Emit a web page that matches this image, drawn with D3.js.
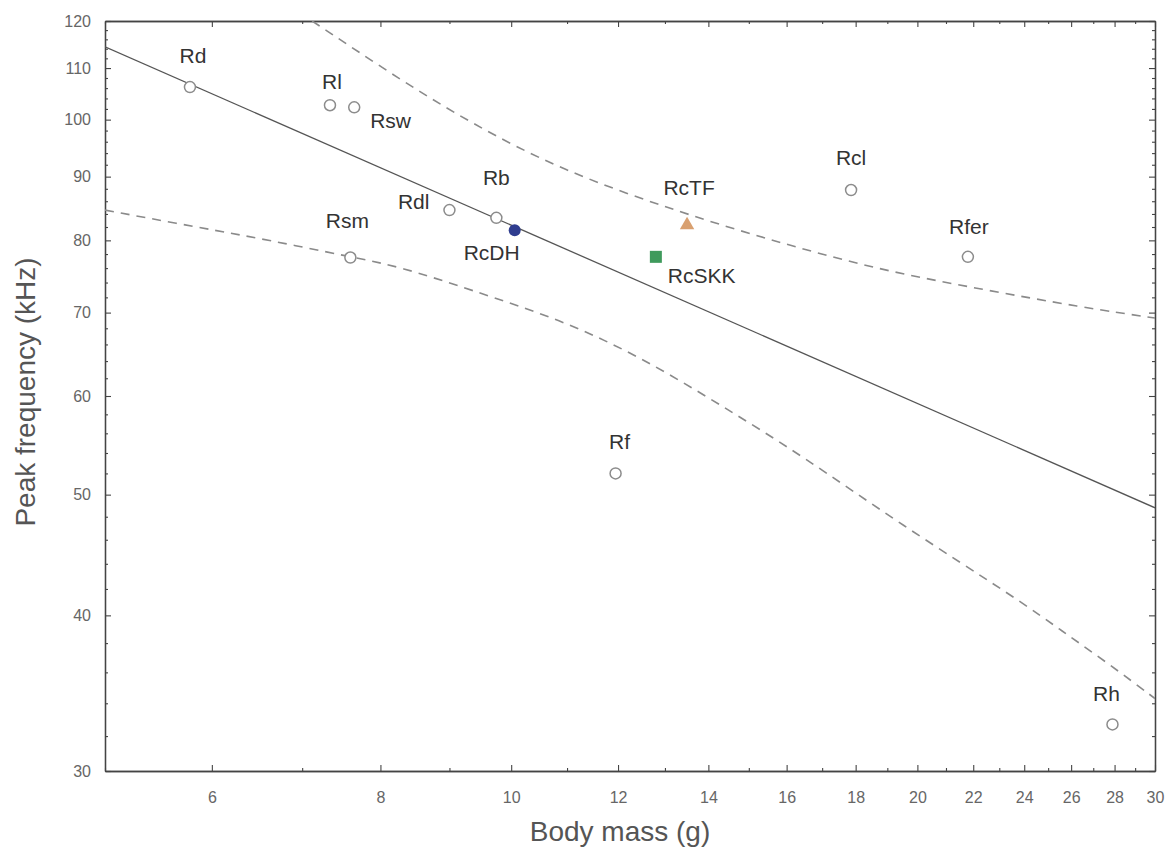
<!DOCTYPE html>
<html>
<head>
<meta charset="utf-8">
<script src="https://cdn.jsdelivr.net/npm/d3@7"></script>
<style>
  body { margin: 0; background: #fff; }
  svg { display: block; }
</style>
</head>
<body>
<div id="chart"></div>
<script>
// Species (open circles)
const species = ["Rd", "Rl", "Rsw", "Rsm", "Rdl", "Rb", "Rcl", "Rfer", "Rf", "Rh"];
const bodyMass = [5.78, 7.34, 7.65, 7.6, 9.0, 9.75, 17.86, 21.8, 11.95, 27.9];
const peakFreq = [106.2, 102.7, 102.3, 77.5, 84.6, 83.4, 87.8, 77.6, 52.0, 32.7];

// Highlighted populations
const popNames = ["RcDH", "RcTF", "RcSKK"];
const popMass = [10.06, 13.5, 12.8];
const popFreq = [81.5, 82.3, 77.6];

// Regression line and confidence band
const fitMass = [5, 30];
const fitFreq = [114.4, 48.8];
const upperMass = [7.12, 8.28, 9.33, 10.88, 13.35, 15.84, 18.8, 22.3, 26.45, 30];
const upperFreq = [120, 107.6, 99.4, 91.1, 84.2, 79.6, 75.7, 73.1, 70.7, 69.3];
const lowerMass = [5, 5.88, 6.59, 7.6, 8.28, 9.33, 10.88, 12.47, 14.3, 16.4, 19.45, 23.75, 25.56, 27.7, 30];
const lowerFreq = [84.6, 81.9, 80.1, 77.6, 76.2, 73.0, 69.1, 64.5, 59.0, 53.8, 47.3, 41.2, 38.9, 36.6, 34.3];

// Tick values
const xMajor = [6, 8, 10, 12, 14, 16, 18, 20, 22, 24, 26, 28, 30];
const xMinor = d3.range(5, 31).filter(v => v % 2 === 1);
const yMajor = [30, 40, 50, 60, 70, 80, 90, 100, 110, 120];
const yMinor = d3.range(30, 121, 2).filter(v => v % 10 !== 0);

// Label placement (offset from point, px) and anchor
const labelPos = {
  Rd: [3, -24, "middle"], Rl: [2, -16, "middle"], Rsw: [16, 21, "start"],
  Rsm: [-3, -30, "middle"], Rdl: [-20, -1, "end"], Rb: [0, -33, "middle"],
  Rcl: [0, -25, "middle"], Rfer: [1, -23, "middle"], Rf: [4, -24, "middle"],
  Rh: [-6, -23, "middle"], RcDH: [-23, 30, "middle"], RcTF: [2, -30, "middle"],
  RcSKK: [12, 26, "start"]
};

const margin = { top: 21, right: 16, bottom: 92, left: 105 };
const width = 1171 - margin.left - margin.right;
const height = 863 - margin.top - margin.bottom;

const svg = d3.select("#chart")
  .append("svg")
    .attr("width", 1171)
    .attr("height", 863)
  .append("g")
    .attr("transform", `translate(${margin.left}, ${margin.top})`);

const x = d3.scaleLog().domain([5, 30]).range([0, width]);
const y = d3.scaleLog().domain([30, 120]).range([height, 0]);

svg.append("clipPath").attr("id", "clip")
  .append("rect").attr("width", width).attr("height", height);

const tickFont = "'Liberation Sans Narrow', 'Liberation Sans', Arial, sans-serif";
const axisColor = "#444";

function styleAxis(g) {
  g.selectAll("path").attr("stroke", axisColor).attr("stroke-width", 1.3);
  g.selectAll("line").attr("stroke", axisColor).attr("stroke-width", 1.1);
  g.selectAll("text")
    .style("font-family", tickFont)
    .style("font-size", "16px")
    .style("fill", "#666");
}

// Bottom axis
svg.append("g")
  .attr("transform", `translate(0, ${height})`)
  .call(d3.axisBottom(x).tickValues(xMajor).tickFormat(d3.format("d"))
    .tickSize(-6).tickSizeOuter(0).tickPadding(21))
  .call(styleAxis);
svg.append("g")
  .attr("transform", `translate(0, ${height})`)
  .call(d3.axisBottom(x).tickValues(xMinor).tickFormat("").tickSize(-3).tickSizeOuter(0))
  .call(styleAxis);

// Top axis (mirrored ticks)
svg.append("g")
  .call(d3.axisTop(x).tickValues(xMajor).tickFormat("").tickSize(-6).tickSizeOuter(0))
  .call(styleAxis);
svg.append("g")
  .call(d3.axisTop(x).tickValues(xMinor).tickFormat("").tickSize(-3).tickSizeOuter(0))
  .call(styleAxis);

// Left axis
svg.append("g")
  .call(d3.axisLeft(y).tickValues(yMajor).tickFormat(d3.format("d"))
    .tickSize(-6).tickSizeOuter(0).tickPadding(14))
  .call(styleAxis);
svg.append("g")
  .call(d3.axisLeft(y).tickValues(yMinor).tickFormat("").tickSize(-3).tickSizeOuter(0))
  .call(styleAxis);

// Right axis
svg.append("g")
  .attr("transform", `translate(${width}, 0)`)
  .call(d3.axisRight(y).tickValues(yMajor).tickFormat("").tickSize(-6).tickSizeOuter(0))
  .call(styleAxis);
svg.append("g")
  .attr("transform", `translate(${width}, 0)`)
  .call(d3.axisRight(y).tickValues(yMinor).tickFormat("").tickSize(-3).tickSizeOuter(0))
  .call(styleAxis);

// Lines
const line = d3.line().x(d => x(d[0])).y(d => y(d[1]));
const smooth = d3.line().x(d => x(d[0])).y(d => y(d[1])).curve(d3.curveBasis);

const plot = svg.append("g").attr("clip-path", "url(#clip)");

plot.append("path")
  .datum(d3.zip(fitMass, fitFreq))
  .attr("d", line)
  .attr("fill", "none")
  .attr("stroke", "#555")
  .attr("stroke-width", 1.3);

[d3.zip(upperMass, upperFreq), d3.zip(lowerMass, lowerFreq)].forEach(band => {
  plot.append("path")
    .datum(band)
    .attr("d", smooth)
    .attr("fill", "none")
    .attr("stroke", "#8a8a8a")
    .attr("stroke-width", 1.6)
    .attr("stroke-dasharray", "9,7");
});

// Open circles
const pts = species.map((s, i) => ({ name: s, m: bodyMass[i], f: peakFreq[i] }));
svg.selectAll(".dot")
  .data(pts)
  .enter()
  .append("circle")
    .attr("class", "dot")
    .attr("cx", d => x(d.m))
    .attr("cy", d => y(d.f))
    .attr("r", 5.5)
    .attr("fill", "white")
    .attr("stroke", "#8c8c8c")
    .attr("stroke-width", 1.5);

// Highlighted populations
const pops = popNames.map((s, i) => ({ name: s, m: popMass[i], f: popFreq[i] }));
svg.append("circle")
  .attr("cx", x(pops[0].m)).attr("cy", y(pops[0].f))
  .attr("r", 6).attr("fill", "#2f3d8f");
svg.append("path")
  .attr("transform", `translate(${x(pops[1].m)}, ${y(pops[1].f)})`)
  .attr("d", d3.symbol(d3.symbolTriangle, 90))
  .attr("fill", "#d9a070");
svg.append("rect")
  .attr("x", x(pops[2].m) - 6).attr("y", y(pops[2].f) - 6)
  .attr("width", 12).attr("height", 12)
  .attr("fill", "#3f9a5c");

// Point labels
svg.selectAll(".lbl")
  .data(pts.concat(pops))
  .enter()
  .append("text")
    .attr("class", "lbl")
    .attr("x", d => x(d.m) + labelPos[d.name][0])
    .attr("y", d => y(d.f) + labelPos[d.name][1])
    .attr("text-anchor", d => labelPos[d.name][2])
    .style("font-family", "'Liberation Sans', Arial, sans-serif")
    .style("font-size", "21px")
    .style("fill", "#333")
    .text(d => d.name);

// Axis titles
svg.append("text")
  .attr("x", width / 2 - 10)
  .attr("y", height + 70)
  .attr("text-anchor", "middle")
  .style("font-family", "'Liberation Sans', Arial, sans-serif")
  .style("font-size", "28px")
  .style("fill", "#555")
  .text("Body mass (g)");

svg.append("text")
  .attr("transform", `translate(${35 - margin.left}, ${392 - margin.top}) rotate(-90)`)
  .attr("text-anchor", "middle")
  .style("font-family", "'Liberation Sans', Arial, sans-serif")
  .style("font-size", "28px")
  .style("fill", "#555")
  .text("Peak frequency (kHz)");
</script>
</body>
</html>
